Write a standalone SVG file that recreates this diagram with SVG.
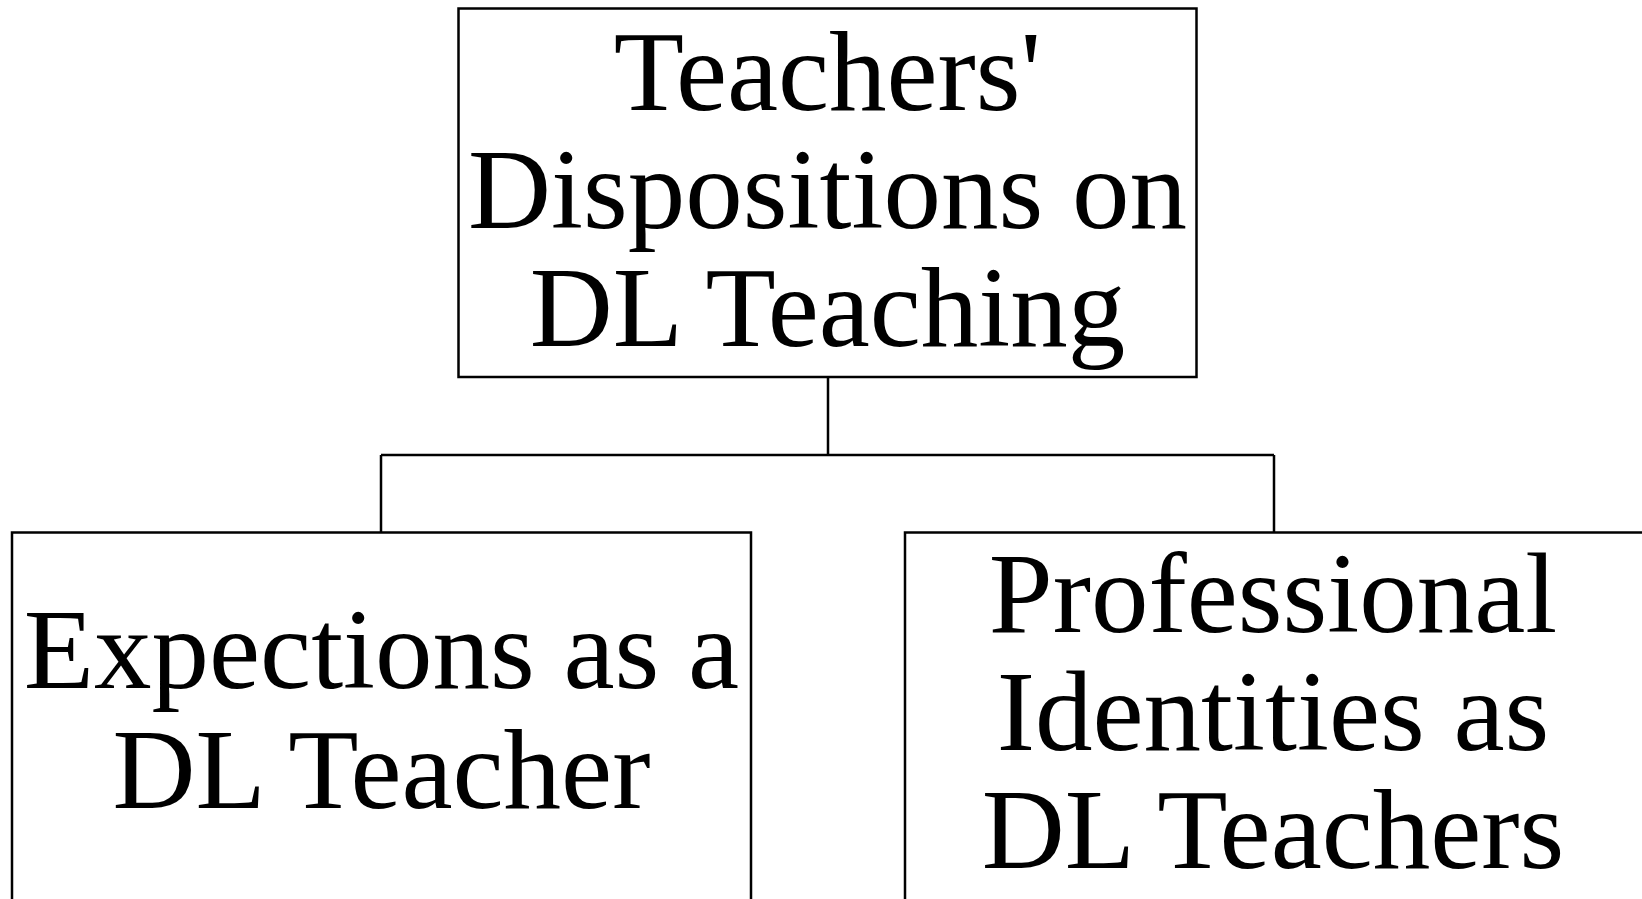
<svg xmlns="http://www.w3.org/2000/svg" width="1642" height="899" viewBox="0 0 1642 899">
<style>
.box{fill:#fff;stroke:#000;stroke-width:2.5}
.lbl{font-family:"Liberation Serif","Times New Roman",serif;font-size:115px;fill:#000;text-anchor:middle}
.conn{fill:none;stroke:#000;stroke-width:2.5}
</style>
<rect width="1642" height="899" fill="#fff"/>
<g id="connectors">
<path class="conn" d="M828 377 V455 M381 455 H1274 M381 455 V532.5 M1274 455 V532.5"/>
</g>
<g id="node-top">
<rect class="box" x="458.5" y="8.5" width="738" height="368.5"/>
<text class="lbl" x="827.5" y="110">Teachers'</text>
<text class="lbl" x="827.5" y="228">Dispositions on</text>
<text class="lbl" x="827.5" y="346">DL Teaching</text>
</g>
<g id="node-left">
<rect class="box" x="12" y="532.5" width="739" height="400"/>
<text class="lbl" x="381.5" y="688">Expections as a</text>
<text class="lbl" x="381.5" y="808">DL Teacher</text>
</g>
<g id="node-right">
<rect class="box" x="905" y="532.5" width="740" height="400"/>
<text class="lbl" x="1273" y="632">Professional</text>
<text class="lbl" x="1273" y="750">Identities as</text>
<text class="lbl" x="1273" y="868">DL Teachers</text>
</g>
</svg>
